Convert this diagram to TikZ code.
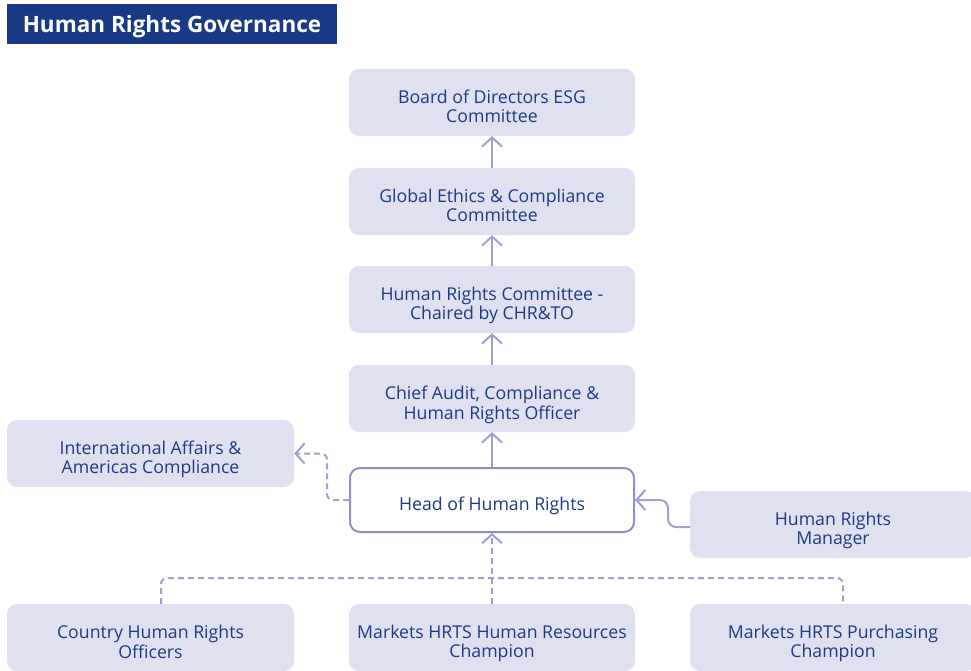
\documentclass[tikz,border=0pt]{standalone}
\usepackage{fontspec}
\setmainfont{Open Sans}
\usetikzlibrary{arrows.meta}
\definecolor{boxfill}{RGB}{223,225,240}
\definecolor{linec}{RGB}{158,161,206}
\definecolor{txt}{RGB}{31,58,130}
\definecolor{titlebg}{RGB}{24,58,133}
\definecolor{headborder}{RGB}{140,144,198}
\newcommand\boxtxt[1]{\raisebox{0pt}[\dimexpr\height+14pt\relax][\depth]{\begin{tabular}{@{}c@{}}#1\end{tabular}}}
\begin{document}
\begin{tikzpicture}[x=1pt,y=-1pt,
  box/.style={fill=boxfill, rounded corners=10pt, minimum width=286pt, minimum height=67pt, text=txt, font=\fontsize{17.7}{19}\selectfont, inner sep=0pt},
  conn/.style={draw=linec, line width=2pt, -{Straight Barb[length=9pt,width=20pt,line width=2pt]}},
  dconn/.style={conn, dashed, dash pattern=on 6pt off 4pt, rounded corners=6pt}
]
\useasboundingbox[clip] (0,0) rectangle (971,671);
\node[fill=titlebg, minimum width=330pt, minimum height=40pt, inner sep=0pt, text=white, font=\fontsize{22.5}{26}\selectfont\bfseries] (title) at (172,24) {\raisebox{0pt}[\dimexpr\height+5pt\relax][\depth]{Human Rights Governance}};
\node[box] (board) at (492,102.5) {\boxtxt{Board of Directors ESG\\Committee}};
\node[box] (ethics) at (492,201.5) {\boxtxt{Global Ethics \& Compliance\\Committee}};
\node[box] (hrc) at (492,299.5) {\boxtxt{Human Rights Committee -\\Chaired by CHR\&TO}};
\node[box] (caco) at (492,398.5) {\boxtxt{Chief Audit, Compliance \&\\Human Rights Officer}};
\node[box, fill=white, draw=headborder, line width=2pt, minimum width=284pt, minimum height=64pt] (head) at (492,500) {\boxtxt{Head of Human Rights}};
\node[box, minimum width=287pt] (intl) at (150.5,453.5) {\boxtxt{International Affairs \&\\Americas Compliance}};
\node[box] (mgr) at (833,524.5) {\boxtxt{Human Rights\\Manager}};
\node[box, minimum width=287pt] (country) at (150.5,637.5) {\boxtxt{Country Human Rights\\Officers}};
\node[box] (mhr) at (492,637.5) {\boxtxt{Markets HRTS Human Resources\\Champion}};
\node[box] (purch) at (833,637.5) {\boxtxt{Markets HRTS Purchasing\\Champion}};
\draw[conn] (ethics) -- (board);
\draw[conn] (hrc) -- (ethics);
\draw[conn] (caco) -- (hrc);
\draw[conn] (head) -- (caco);
\draw[dconn] (head.west) -- ++(-22,0) |- (intl.east);
\draw[conn, rounded corners=8pt] (mgr.west |- 0,527) -- (668,527) |- (head.east);
\coordinate (jl) at (161,578);
\coordinate (jr) at (843,578);
\draw[dconn, -] (country.north -| jl) -- (jl) -- (jr) -- (purch.north -| jr);
\draw[dconn] (mhr) -- (head);
\end{tikzpicture}
\end{document}
